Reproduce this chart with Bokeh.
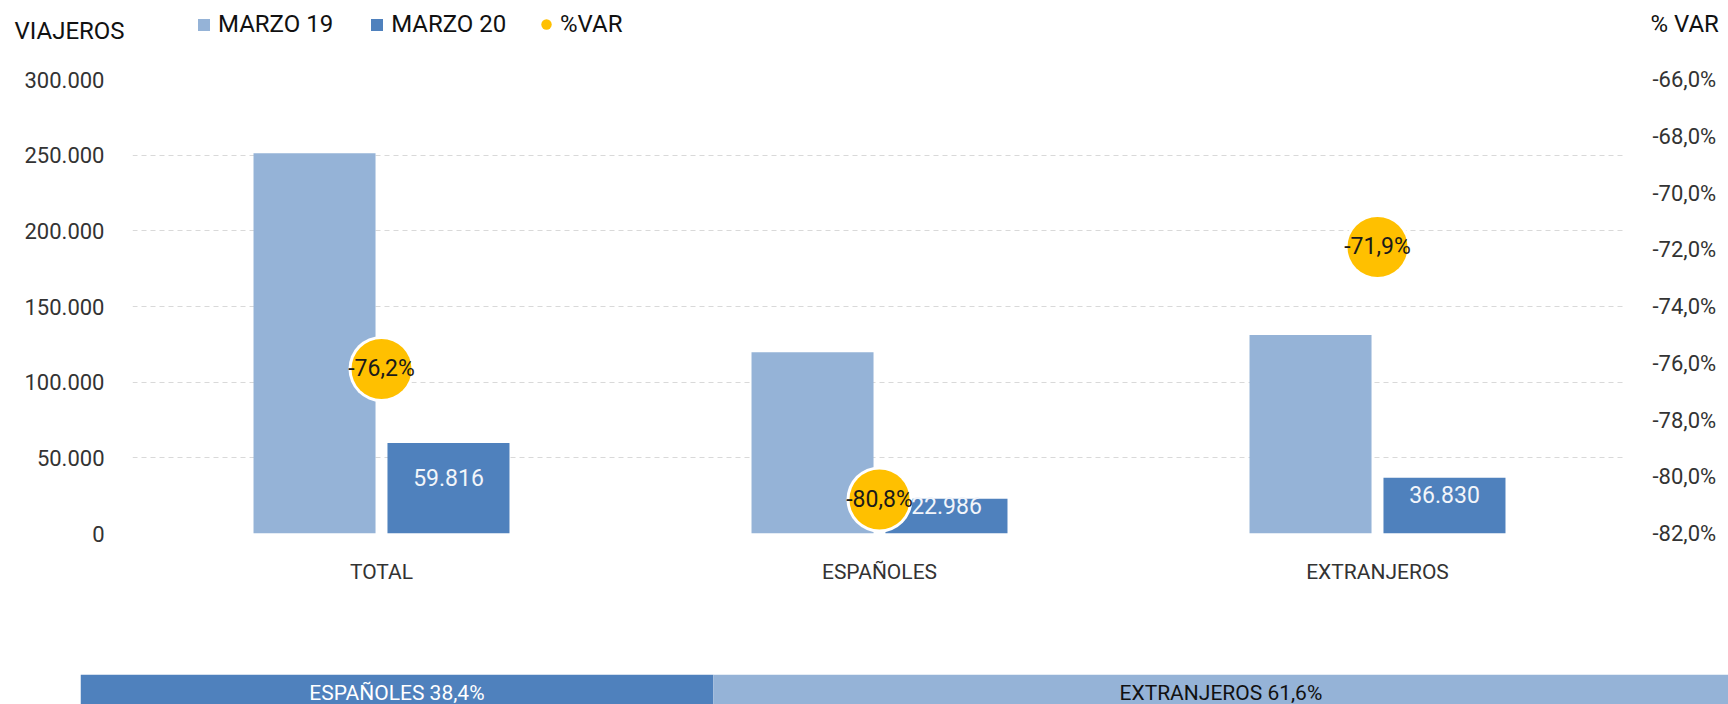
from bokeh.plotting import figure
from bokeh.models import (FactorRange, Range1d, LinearAxis, FixedTicker, CustomJSTickFormatter,
                          ColumnDataSource, Legend, LegendItem, Label)
from bokeh.transform import dodge
from bokeh.layouts import column
from bokeh.core.properties import value
from bokeh.embed import file_html
from bokeh.resources import INLINE

# ---------------- data ----------------
categories = ["TOTAL", "ESPAÑOLES", "EXTRANJEROS"]
marzo19 = [251300, 119700, 131100]
marzo20 = [59816, 22986, 36830]
var_pct = [-76.2, -80.8, -71.9]
left_ticks = [0, 50000, 100000, 150000, 200000, 250000, 300000]
right_ticks = [-82, -80, -78, -76, -74, -72, -70, -68, -66]
share_names = ["ESPAÑOLES", "EXTRANJEROS"]
share_values = [38.4, 61.6]
series_names = ["MARZO 19", "MARZO 20", "%VAR"]

FONT = "Roboto"
C19 = "#95B3D7"
C20 = "#4F81BD"
CDOT = "#FFC000"
TXT = "#333333"
BLK = "#111111"
W = 1728


def no_align(fig):
    try:
        fig.frame_align = False
    except Exception:
        pass


m20_labels = [f"{v:,}".replace(",", ".") for v in marzo20]
var_labels = [f"{v:.1f}%".replace(".", ",") for v in var_pct]
m20_mid = [v / 2 for v in marzo20]

src = ColumnDataSource(dict(cat=categories, m19=marzo19, m20=marzo20, var=var_pct,
                            m20_label=m20_labels, var_label=var_labels, m20_mid=m20_mid))

# ---------------- header (legend + axis titles) ----------------
HH = 48
h = figure(width=W, height=HH, x_range=Range1d(0, W), y_range=Range1d(0, HH),
           x_axis_location=None, y_axis_location=None, output_backend="svg",
           toolbar_location=None, min_border_left=0, min_border_right=0,
           min_border_top=0, min_border_bottom=0)
no_align(h)
h.outline_line_color = None
h.grid.visible = False
# legend proxies (kept outside the visible range)
d1 = h.vbar(x=[-500], top=[-500], width=1, fill_color=C19, line_color=None)
d2 = h.vbar(x=[-500], top=[-500], width=1, fill_color=C20, line_color=None)
d3 = h.scatter(x=[-500], y=[-500], size=10, fill_color=CDOT, line_color=None)

leg1 = Legend(items=[LegendItem(label=series_names[0], renderers=[d1]),
                     LegendItem(label=series_names[1], renderers=[d2])],
              orientation="horizontal", location="left", margin=196,
              glyph_width=15, glyph_height=15, label_standoff=7, spacing=36, padding=0,
              border_line_color=None, background_fill_alpha=0,
              label_text_font=FONT, label_text_font_size="24px", label_text_color=BLK)
leg2 = Legend(items=[LegendItem(label=series_names[2], renderers=[d3])],
              orientation="horizontal", location="left", margin=533,
              glyph_width=26, glyph_height=26, label_standoff=1, spacing=0, padding=0,
              border_line_color=None, background_fill_alpha=0,
              label_text_font=FONT, label_text_font_size="24px", label_text_color=BLK)
h.add_layout(leg1)
h.add_layout(leg2)
h.add_layout(Label(x=14, y=HH - 30, text="VIAJEROS", text_baseline="middle", text_align="left",
                   text_font=FONT, text_font_size="24px", text_color=BLK))
h.add_layout(Label(x=1650, y=HH - 23, text="% VAR", text_baseline="middle", text_align="left",
                   text_font=FONT, text_font_size="24px", text_color=BLK))

# ---------------- main chart ----------------
PH = 618
p = figure(width=W, height=PH,
           x_range=FactorRange(factors=categories, range_padding=0),
           y_range=Range1d(0, 300000),
           output_backend="svg", toolbar_location=None,
           min_border_left=132, min_border_right=102, min_border_top=79 - HH,
           min_border_bottom=HH + PH - 533)
no_align(p)
p.extra_y_ranges = {"var": Range1d(-82, -66)}
p.outline_line_color = None

ya = p.yaxis[0]
ya.ticker = FixedTicker(ticks=left_ticks)
ya.formatter = CustomJSTickFormatter(code=r"return tick.toFixed(0).replace(/\B(?=(\d{3})+(?!\d))/g, '.');")
ya.axis_line_color = None
ya.major_tick_line_color = None
ya.minor_tick_line_color = None
ya.major_tick_out = 0
ya.major_tick_in = 0
ya.major_label_standoff = 28
ya.major_label_text_font = FONT
ya.major_label_text_font_size = "22px"
ya.major_label_text_color = TXT

ra = LinearAxis(y_range_name="var", ticker=FixedTicker(ticks=right_ticks),
                formatter=CustomJSTickFormatter(code="return tick.toFixed(1).replace('.', ',') + '%';"))
ra.axis_line_color = None
ra.major_tick_line_color = None
ra.minor_tick_line_color = None
ra.major_tick_out = 0
ra.major_tick_in = 0
ra.major_label_standoff = 26
ra.major_label_text_font = FONT
ra.major_label_text_font_size = "22px"
ra.major_label_text_color = TXT
p.add_layout(ra, "right")

xa = p.xaxis[0]
xa.axis_line_color = None
xa.major_tick_line_color = None
xa.minor_tick_line_color = None
xa.major_tick_out = 0
xa.major_tick_in = 0
xa.major_label_standoff = 26
xa.major_label_text_font = FONT
xa.major_label_text_font_size = "21px"
xa.major_label_text_color = TXT

p.xgrid.grid_line_color = None
p.ygrid.ticker = FixedTicker(ticks=left_ticks)
p.ygrid.grid_line_color = "#D9D9D9"
p.ygrid.grid_line_dash = "5 4"
p.ygrid.grid_line_width = 1

p.vbar(x=dodge("cat", -0.1345, range=p.x_range), top="m19", width=0.245, source=src,
       fill_color=C19, line_color=None)
p.vbar(x=dodge("cat", 0.1345, range=p.x_range), top="m20", width=0.245, source=src,
       fill_color=C20, line_color=None)
p.text(x=dodge("cat", 0.1345, range=p.x_range), y="m20_mid", text="m20_label", source=src,
       text_align="center", text_baseline="middle", text_color="#F2F5FA",
       text_font=value(FONT), text_font_size="23px", y_offset=-11)
p.scatter(x="cat", y="var", y_range_name="var", size=66, fill_color="white", line_color=None, source=src)
p.scatter(x="cat", y="var", y_range_name="var", size=60, fill_color=CDOT, line_color=None, source=src)
p.text(x="cat", y="var", y_range_name="var", text="var_label", source=src,
       text_align="center", text_baseline="middle", text_color="#1a1a1a",
       text_font=value(FONT), text_font_size="23px")

# ---------------- share bar ----------------
lefts = [sum(share_values[:i]) for i in range(len(share_values))]
rights = [l + v for l, v in zip(lefts, share_values)]
centers = [(l + r) / 2 for l, r in zip(lefts, rights)]
share_labels = [f"{n} {v:.1f}%".replace(".", ",") for n, v in zip(share_names, share_values)]
ssrc = ColumnDataSource(dict(left=lefts, right=rights, center=centers, label=share_labels,
                             color=[C20, C19], tcolor=["white", BLK],
                             y=[0.5] * len(share_values), ty=[0.5] * len(share_values)))

p2 = figure(width=W, height=704 - HH - PH, x_range=Range1d(0, 100), y_range=Range1d(1 - 30 / 36, 1),
            output_backend="svg", toolbar_location=None,
            x_axis_location=None, y_axis_location=None,
            min_border_left=80, min_border_right=0, min_border_top=8, min_border_bottom=0)
no_align(p2)
p2.outline_line_color = None
p2.grid.grid_line_color = None
p2.hbar(y="y", left="left", right="right", height=1, fill_color="color", line_color=None, source=ssrc)
p2.text(x="center", y="ty", text="label", text_color="tcolor", source=ssrc,
        text_align="center", text_baseline="middle", text_font=value(FONT), text_font_size="21px")

layout = column(h, p, p2)
open("out.html", "w").write(file_html(layout, INLINE))
